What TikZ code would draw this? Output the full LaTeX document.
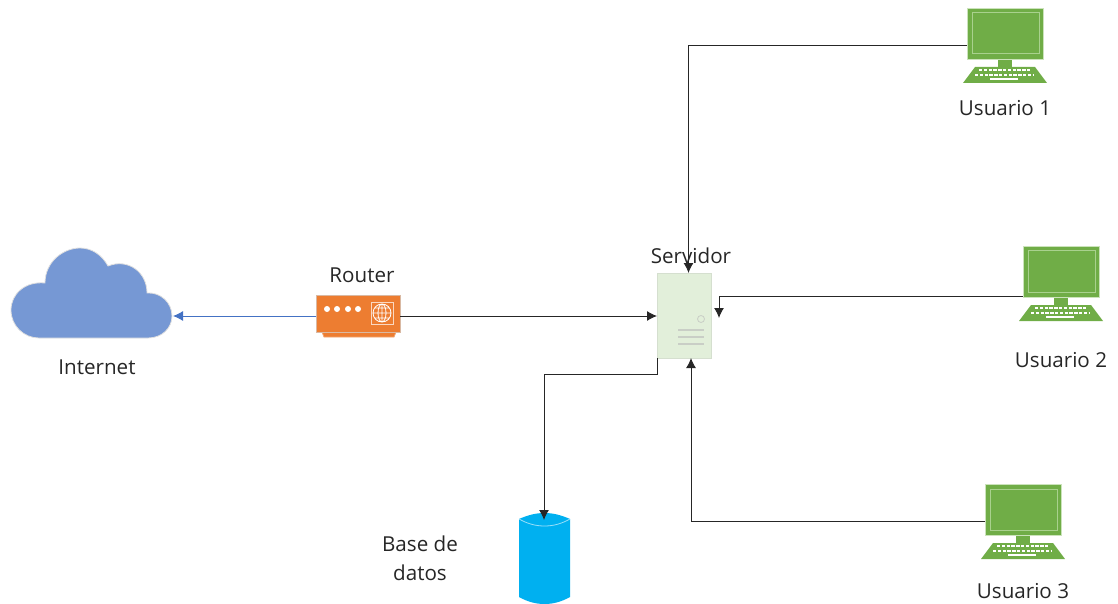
\documentclass[tikz,border=0pt]{standalone}
\usepackage{fontspec}
\setmainfont{Open Sans}
\usetikzlibrary{arrows.meta,positioning,calc}
\definecolor{pcgreen}{HTML}{70AD47}
\definecolor{pcline}{HTML}{A9D18E}
\definecolor{routerorange}{HTML}{ED7D31}
\definecolor{routerline}{HTML}{D9B9A3}
\definecolor{cloudblue}{HTML}{7698D4}
\definecolor{linkblue}{HTML}{4472C4}
\definecolor{serverfill}{HTML}{E2EFDA}
\definecolor{serverline}{HTML}{D5DFCF}
\definecolor{serverdash}{HTML}{C9CEC6}
\definecolor{dbblue}{HTML}{00B0F0}
\tikzset{
    label/.style={font=\fontsize{10.3}{14.5}\selectfont, text=black!85, align=center},
    link/.style={line width=0.5pt, black!85, -{Latex[length=5pt,width=5pt]}},
    screen/.style={rectangle, fill=pcgreen, draw=pcline!60, line width=0.3pt, minimum width=38pt, minimum height=25.5pt, inner sep=0pt, outer sep=0pt},
    keycap/.style={white, line width=1pt, dash pattern=on 1.7pt off 0.7pt},
}
\begin{document}
\begin{tikzpicture}[x=0.5pt, y=-0.5pt]
        \useasboundingbox (0,0) rectangle (1118,604);
        % Cloud
        \fill[cloudblue, draw=black!12, line width=0.4pt] (39,338) .. controls (24,338) and (11,326) .. (11,310)
            .. controls (11,294) and (25,281) .. (45,283)
            .. controls (45,262) and (63,248) .. (80,248)
            .. controls (92,248) and (102,255) .. (108,266)
            .. controls (128,258) and (147,272) .. (147,293)
            .. controls (161,292) and (172,303) .. (172,316)
            .. controls (172,328) and (162,338) .. (148,338) -- cycle;
        \coordinate (cloud) at (173,316);
        \node[label] (internet) at (97,367) {Internet};
        % Router
        \fill[routerorange, draw=routerorange!70] (322,332) -- (324,337) -- (394,337) -- (396,332) -- cycle;
        \node[rectangle, fill=routerorange, draw=routerline, line width=0.3pt, minimum width=42pt, minimum height=18.5pt, inner sep=0pt, outer sep=0pt] (router) at (358,313.5) {};
        \foreach \x in {327,337,348,358}
            \fill[white] (\x,309) circle (1.5pt);
        \draw[white!70!routerorange, line width=0.3pt] (371,302) rectangle (393,324);
        \draw[white, line width=0.4pt] (382,313) circle (4.5pt) (382,313) ellipse (2pt and 4.5pt)
            (373,313) -- (391,313) (374.5,308) -- (389.5,308) (374.5,318) -- (389.5,318) (382,304) -- (382,322);
        \node[label] (routertxt) at (362,275) {Router};
        \coordinate (routerl) at (316,316);
        \coordinate (routerr) at (400,316);
        % Server
        \node[rectangle, fill=serverfill, draw=serverline, line width=0.4pt, minimum width=27pt, minimum height=42.5pt, inner sep=0pt, outer sep=0pt] (server) at (684,315.5) {};
        \draw[serverdash, line width=0.4pt] (701,319) circle (1.75pt);
        \foreach \y in {330,337,344}
            \draw[serverdash, line width=0.6pt] (678,\y) -- (704,\y);
        \node[label] (servertxt) at (691,256) {Servidor};
        \coordinate (servertop) at (688.5,273);
        \coordinate (serverright) at (719,318);
        \coordinate (serverbottom) at (691,358);
        % Database
        \fill[dbblue] (519,519) .. controls (528,515) and (536,513) .. (544.5,513) .. controls (553,513) and (561,515) .. (570,519)
            -- (570,597) .. controls (561,602) and (553,604) .. (544.5,604) .. controls (536,604) and (528,602) .. (519,597) -- cycle;
        \draw[white!60!dbblue, line width=0.4pt] (519,519) .. controls (528,524) and (536,526) .. (544.5,526) .. controls (553,526) and (561,524) .. (570,519);
        \node[minimum width=25.5pt, minimum height=45.5pt, inner sep=0pt, outer sep=0pt] (db) at (544.5,558.5) {};
        \coordinate (dbtop) at (544,520);
        \node[label] (dbtxt) at (420,558) {Base de\\datos};
        % Users
        \foreach \n/\dx/\dy/\lx/\ly in {1/0/0/1005/108, 2/56/238/1061/360, 3/18/476/1023/591} {
            \begin{scope}[shift={(\dx,\dy)}]
                \fill[pcgreen] (998,59) rectangle (1012,67);
                \fill[pcgreen] (975,67) -- (1035,67) -- (1047,83) -- (963,83) -- cycle;
                \draw[keycap] (979,70) -- (1030,70);
                \draw[keycap] (975,75) -- (1034,75);
                \draw[white, line width=1pt] (990,79) -- (1018,79);
                \node[screen] (pc\n) at (1005,33.5) {};
                \draw[pcline, line width=0.5pt] (972,13) rectangle (1039,54);
                \coordinate (pcin\n) at (967,45.5);
            \end{scope}
            \node[label] (user\n) at (\lx,\ly) {Usuario \n};
        }
        % Links
        \draw[link, linkblue] (routerl) -- (cloud);
        \draw[link] (routerr) -- (server.west |- routerr);
        \draw[link] (pcin1) -| (servertop);
        \draw[link] (pcin2) ++(0,12.5) -| (serverright);
        \draw[link] (pcin3) -| (serverbottom);
        \draw[link] (server.south west) -- ++(0,16) -| (dbtop);
    \end{tikzpicture}
\end{document}
